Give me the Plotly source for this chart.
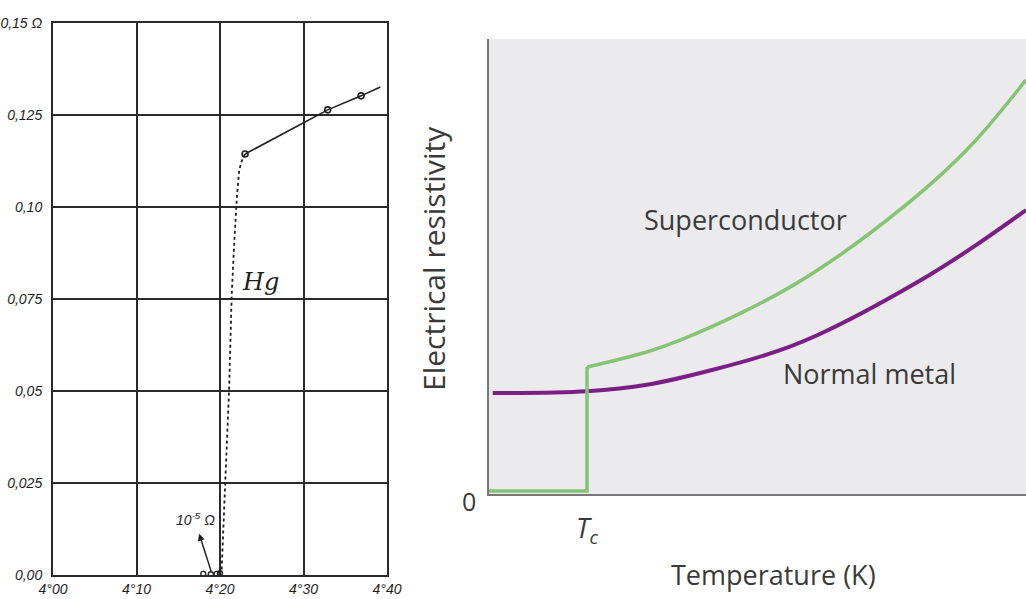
import plotly.graph_objects as go

# ---------------- Left panel: Onnes' mercury measurement ----------------
hg_meas_T = [4.230, 4.329, 4.369]
hg_meas_R = [0.1144, 0.1264, 0.1302]
hg_fit_T = [4.230, 4.329, 4.369, 4.392]
hg_fit_R = [0.1144, 0.1264, 0.1302, 0.1326]
hg_drop_T = [4.230, 4.226, 4.223, 4.220, 4.217, 4.214, 4.211, 4.206, 4.202, 4.200]
hg_drop_R = [0.1144, 0.1125, 0.1100, 0.1020, 0.0900, 0.0760, 0.0510, 0.0250, 0.0015, 0.0000]
hg_low_T = [4.180, 4.189, 4.196, 4.200]
hg_low_R = [0.0003, 0.0002, 0.0003, 0.0005]

left_xticks = [4.00, 4.10, 4.20, 4.30, 4.40]
left_xlabels = ["<i>4°00</i>", "<i>4°10</i>", "<i>4°20</i>", "<i>4°30</i>", "<i>4°40</i>"]
left_yticks = [0.0, 0.025, 0.05, 0.075, 0.10, 0.125, 0.15]
left_ylabels = ["<i>0,00</i>", "<i>0,025</i>", "<i>0,05</i>", "<i>0,075</i>", "<i>0,10</i>", "<i>0,125</i>", "<i>0,15 Ω</i>"]

# ---------------- Right panel: schematic ----------------
sc_T = [0.0, 1.825, 1.825, 2.94, 3.56, 4.80, 5.74, 6.31, 7.08, 8.27, 9.07, 10.0]
sc_R = [0.066, 0.066, 2.79, 3.12, 3.38, 4.04, 4.64, 5.07, 5.72, 6.86, 7.78, 9.10]
nm_T = [0.07, 1.825, 2.94, 4.17, 5.42, 6.31, 8.14, 9.07, 10.0]
nm_R = [2.22, 2.26, 2.40, 2.73, 3.16, 3.60, 4.77, 5.47, 6.24]
Tc = 1.825

W, H = 1026, 599
ink = "#1e1e1e"
txt = "#3a3a3a"


def px_x(p):
    return p / W


def px_y(p):
    return 1 - p / H


fig = go.Figure()

# left traces
fig.add_trace(go.Scatter(x=hg_drop_T, y=hg_drop_R, mode="lines",
                         line=dict(color=ink, width=1.8, dash="dot"),
                         xaxis="x", yaxis="y", showlegend=False, hoverinfo="skip"))
fig.add_trace(go.Scatter(x=hg_fit_T, y=hg_fit_R, mode="lines",
                         line=dict(color=ink, width=1.6),
                         xaxis="x", yaxis="y", showlegend=False))
fig.add_trace(go.Scatter(x=hg_meas_T, y=hg_meas_R, mode="markers",
                         marker=dict(symbol="circle-open", size=6, color=ink, line=dict(width=1.6)),
                         xaxis="x", yaxis="y", showlegend=False))
fig.add_trace(go.Scatter(x=hg_low_T, y=hg_low_R, mode="markers",
                         marker=dict(symbol="circle-open", size=5, color=ink, line=dict(width=1.3)),
                         xaxis="x", yaxis="y", showlegend=False))

# right traces
fig.add_trace(go.Scatter(x=nm_T, y=nm_R, mode="lines", line=dict(color="#7b1f87", width=4, shape="spline"),
                         xaxis="x2", yaxis="y2", showlegend=False))
fig.add_trace(go.Scatter(x=sc_T[:3], y=sc_R[:3], mode="lines", line=dict(color="#84c472", width=3.5),
                         xaxis="x2", yaxis="y2", showlegend=False))
fig.add_trace(go.Scatter(x=sc_T[2:], y=sc_R[2:], mode="lines", line=dict(color="#84c472", width=3.5, shape="spline"),
                         xaxis="x2", yaxis="y2", showlegend=False))

C = dict(xanchor="center", yanchor="middle", showarrow=False)
annotations = [
    dict(x=4.249, y=0.0795, xref="x", yref="y", text="<i>Hg</i>",
         font=dict(family="DejaVu Serif", size=24, color=ink), **C),
    dict(x=4.171, y=0.0152, xref="x", yref="y", text="<i>10<sup>-5</sup> Ω</i>",
         font=dict(family="Liberation Sans", size=14, color=ink), **C),
    dict(x=4.175, y=0.0112, xref="x", yref="y", ax=4.190, ay=0.0006, axref="x", ayref="y",
         text="", showarrow=True, arrowhead=2, arrowsize=1, arrowwidth=1.4, arrowcolor=ink),
    dict(x=px_x(469), y=px_y(501), xref="paper", yref="paper", text="0",
         font=dict(family="Open Sans", size=25, color=txt), **C),
    dict(x=Tc, y=px_y(529), xref="x2", yref="paper", text="<i>T<sub>c</sub></i>",
         font=dict(family="Open Sans", size=27, color=txt), **C),
    dict(x=px_x(773), y=px_y(574), xref="paper", yref="paper", text="Temperature (K)",
         font=dict(family="Open Sans", size=27, color=txt), **C),
    dict(x=px_x(745), y=px_y(219), xref="paper", yref="paper", text="Superconductor",
         font=dict(family="Open Sans", size=27, color=txt), **C),
    dict(x=px_x(869), y=px_y(374), xref="paper", yref="paper", text="Normal metal",
         font=dict(family="Open Sans", size=27, color=txt), **C),
    dict(x=px_x(433), y=px_y(259), xref="paper", yref="paper", text="Electrical resistivity",
         textangle=-90, font=dict(family="Open Sans", size=30, color=txt), **C),
]

fig.update_layout(
    width=W, height=H,
    margin=dict(l=0, r=0, t=0, b=0, pad=0),
    paper_bgcolor="white",
    plot_bgcolor="white",
    showlegend=False,
    xaxis=dict(domain=[53 / W, 387 / W], range=[4.0, 4.4], anchor="y", automargin=False,
               tickvals=left_xticks, ticktext=left_xlabels, tickfont=dict(family="Liberation Sans", size=14, color=ink),
               showgrid=True, gridcolor="#2a2a2a", gridwidth=1.8, zeroline=False,
               showline=True, linecolor="#2a2a2a", linewidth=2, mirror=True, ticks="", ticklabelstandoff=0),
    yaxis=dict(domain=[1 - 575 / H, 1 - 23 / H], range=[0, 0.15], anchor="x", automargin=False,
               tickvals=left_yticks, ticktext=left_ylabels, tickfont=dict(family="Liberation Sans", size=14, color=ink),
               showgrid=True, gridcolor="#2a2a2a", gridwidth=1.8, zeroline=False,
               showline=True, linecolor="#2a2a2a", linewidth=2, mirror=True, ticks="", ticklabelstandoff=6),
    xaxis2=dict(domain=[489 / W, 1.0], range=[0, 10], anchor="y2", automargin=False,
                showgrid=False, zeroline=False, showticklabels=False, ticks="",
                showline=True, linecolor="#777777", linewidth=2),
    yaxis2=dict(domain=[1 - 494 / H, 1 - 39 / H], range=[0, 10], anchor="x2", automargin=False,
                showgrid=False, zeroline=False, ticks="", showticklabels=False,
                showline=True, linecolor="#777777", linewidth=2),
    annotations=annotations,
    shapes=[dict(type="rect", xref="x2 domain", yref="y2 domain", x0=0, x1=1, y0=0, y1=1,
                 fillcolor="#ebebed", line=dict(width=0), layer="below")],
)

fig.write_html("out.html", config={"displayModeBar": False},
               post_script="document.body.style.margin='0px';document.body.style.overflow='hidden';")
